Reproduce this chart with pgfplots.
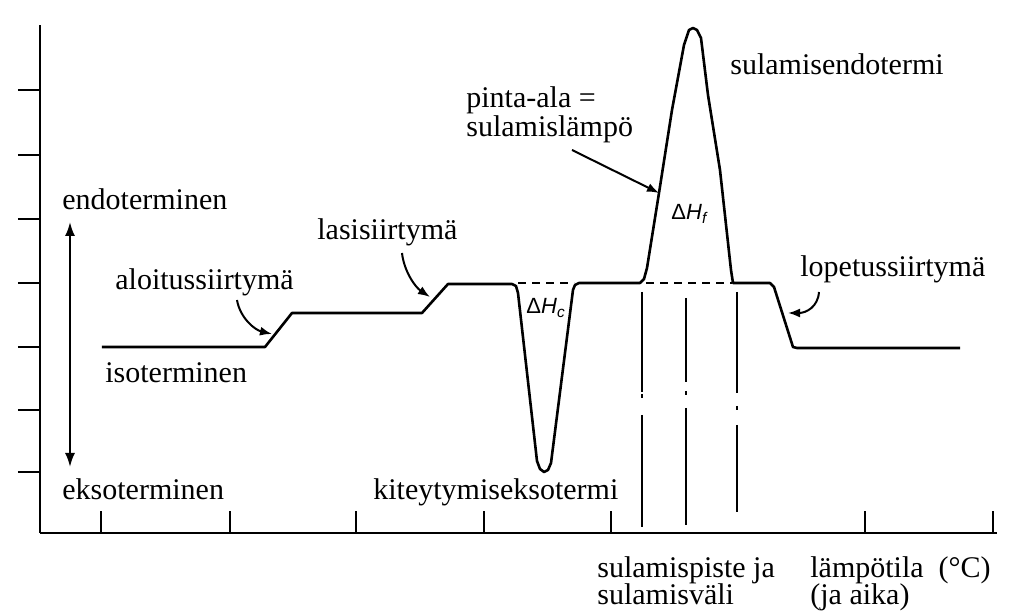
\documentclass[border=0pt]{standalone}
\usepackage{fontspec}
\setmainfont{Liberation Serif}
\newfontfamily\sansf{Liberation Sans}
\usepackage{pgfplots}
\pgfplotsset{compat=1.18}
\usetikzlibrary{arrows.meta}

\newcommand{\enthalpy}[1]{{\sansf\fontsize{11}{13}\selectfont Δ\textit{H}\textsubscript{\textit{#1}}}}
\tikzset{lab/.style={anchor=base west, inner sep=0pt, font=\fontsize{15}{17}\selectfont}}

\begin{document}
\begin{tikzpicture}
\begin{axis}[
  x=0.5pt, y=0.5pt,
  xmin=40, xmax=997, ymin=0, ymax=508,
  axis lines=left,
  axis line style={-, line width=1pt},
  xtick={101,230,356,484,611,865,993},
  ytick={61,123,186,250,314,378,443},
  xticklabels={}, yticklabels={},
  tick style={line width=1pt, black},
  major tick length=11pt,
  xtick align=inside, ytick align=outside,
  clip=false,
]
% DSC trace: baseline, onset step, glass transition, crystallisation, melting, end step
\addplot[black, line width=1.3pt, line join=round] coordinates {
  (102,186) (265,186) (292,220) (422,220) (448,249) (512,249) (516,247) (518,240)
  (537,72) (540,64) (544,61) (548,63) (551,70) (573,243) (575,248) (579,250)
  (640,250) (644,254) (647,265) (659,340) (672,423) (684,488) (689,503) (693,505)
  (697,503) (701,495) (708,438) (720,363) (731,263) (733,250) (770,250) (774,246)
  (793,186) (797,185) (960,185)
};
% interpolated baselines under the peaks
\addplot[black, line width=1pt, dash pattern=on 4pt off 3pt] coordinates {(518,250) (574,250)};
\addplot[black, line width=1pt, dash pattern=on 4pt off 3pt] coordinates {(646,250) (732,250)};
% melting point / melting range markers
\addplot[black, line width=1pt, unbounded coords=jump] coordinates {
  (642,241) (642,141) (642,nan) (642,139) (642,135) (642,nan) (642,118) (642,6)
};
\addplot[black, line width=1pt, unbounded coords=jump] coordinates {
  (686,235) (686,151) (686,nan) (686,142) (686,138) (686,nan) (686,125) (686,8)
};
\addplot[black, line width=1pt, unbounded coords=jump] coordinates {
  (737,241) (737,140) (737,nan) (737,127) (737,123) (737,nan) (737,108) (737,21)
};

% labels
\node[lab] at (axis cs:62,323) {endoterminen};
\node[lab] at (axis cs:62,33) {eksoterminen};
\node[lab] at (axis cs:115,243) {aloitussiirtymä};
\node[lab] at (axis cs:317,293) {lasisiirtymä};
\node[lab] at (axis cs:105,150) {isoterminen};
\node[lab] at (axis cs:373,33) {kiteytymiseksotermi};
\node[lab] at (axis cs:466,425) {pinta-ala =};
\node[lab] at (axis cs:466,396) {sulamislämpö};
\node[lab] at (axis cs:730,458) {sulamisendotermi};
\node[lab] at (axis cs:800,256) {lopetussiirtymä};
\node[lab] at (axis cs:597,-45) {sulamispiste ja};
\node[lab] at (axis cs:597,-72) {sulamisväli};
\node[lab] at (axis cs:810,-45) {lämpötila\ \ (°C)};
\node[lab] at (axis cs:810,-72) {(ja aika)};
\node[lab] at (axis cs:671,313) {\enthalpy{f}};
\node[lab] at (axis cs:526,219) {\enthalpy{c}};

% arrows
\draw[line width=1pt, {Latex[length=7pt,width=5pt]}-{Latex[length=7pt,width=5pt]}]
  (axis cs:70,311) -- (axis cs:70,66);
\draw[line width=1pt, -{Latex[length=6pt,width=4.5pt]}]
  (axis cs:237,233) .. controls (axis cs:240,215) and (axis cs:255,203) .. (axis cs:272,199);
\draw[line width=1pt, -{Latex[length=6pt,width=4.5pt]}]
  (axis cs:402,280) .. controls (axis cs:404,262) and (axis cs:415,246) .. (axis cs:430,236);
\draw[line width=1pt, -{Latex[length=6pt,width=4.5pt]}]
  (axis cs:819,241) .. controls (axis cs:818,226) and (axis cs:806,220) .. (axis cs:788,220);
\draw[line width=1pt, -{Latex[length=6pt,width=4.5pt]}]
  (axis cs:572,383) -- (axis cs:659,340);

\coordinate (BL) at (axis cs:0,-83);
\coordinate (TR) at (axis cs:1009,533);
\end{axis}
\pgfresetboundingbox
\path (BL) rectangle (TR);
\end{tikzpicture}
\end{document}
